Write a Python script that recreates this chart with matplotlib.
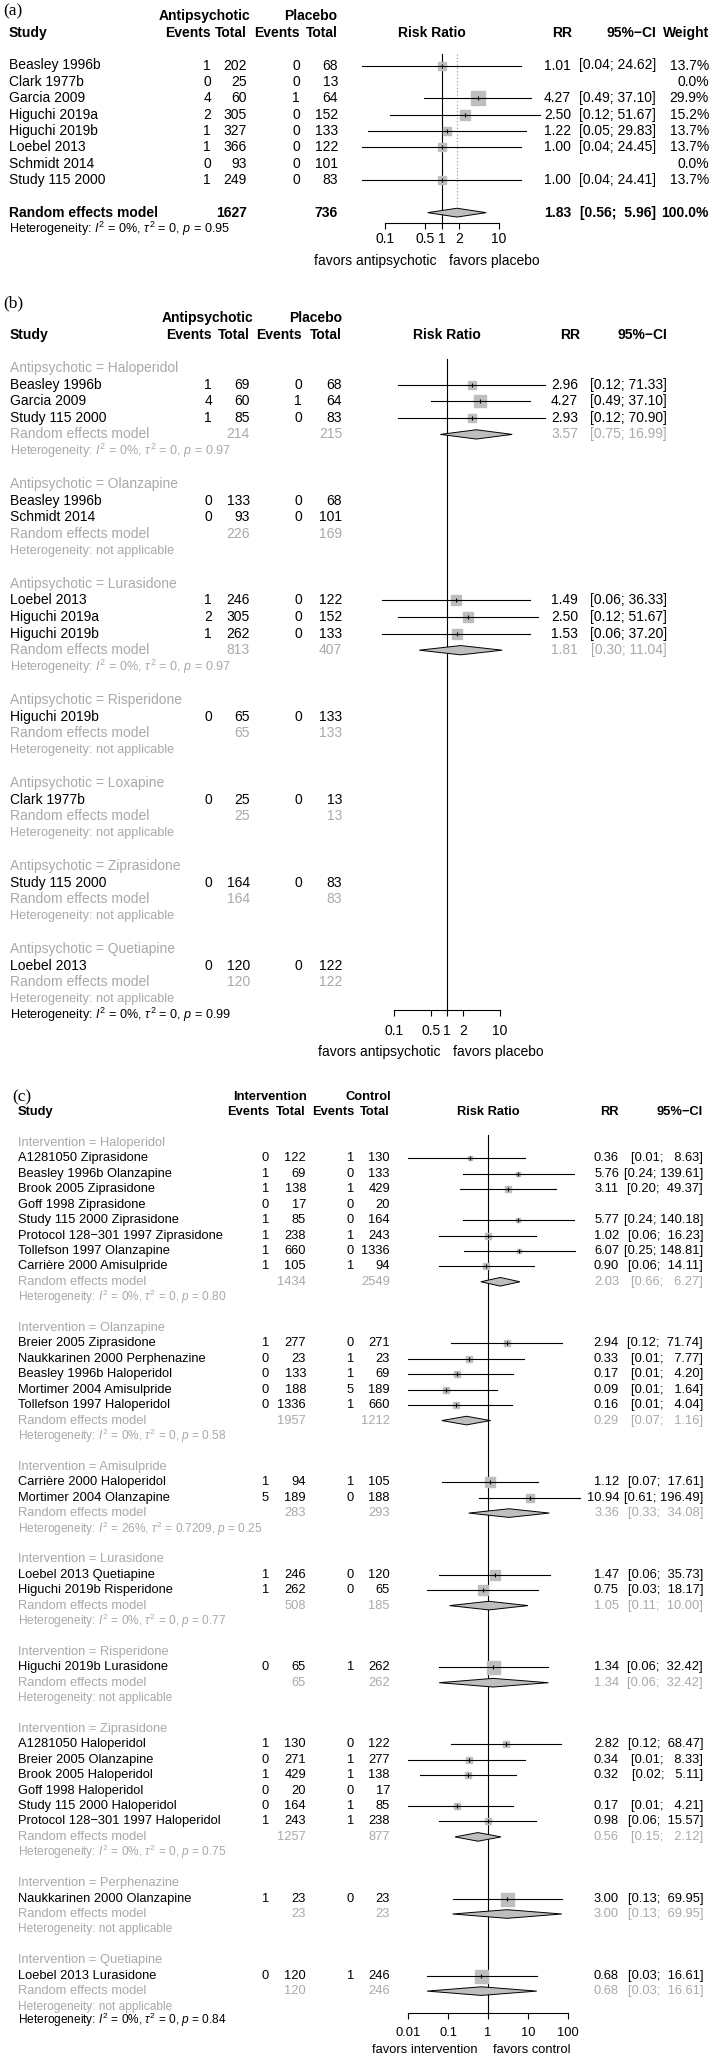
import numpy as np
import matplotlib
matplotlib.use("Agg")
import matplotlib.pyplot as plt
from matplotlib import transforms
from matplotlib.ticker import FixedLocator, FixedFormatter, NullLocator

plt.rcParams['font.family'] = ['Liberation Sans', 'DejaVu Sans']
plt.rcParams['mathtext.fontset'] = 'custom'
plt.rcParams['mathtext.rm'] = 'Liberation Sans'
plt.rcParams['mathtext.it'] = 'Liberation Sans:italic'
plt.rcParams['mathtext.bf'] = 'Liberation Sans:bold'

nan = np.nan

# ---------------- Panel (a) data ----------------
a_study = ["Beasley 1996b", "Clark 1977b", "Garcia 2009", "Higuchi 2019a",
           "Higuchi 2019b", "Loebel 2013", "Schmidt 2014", "Study 115 2000"]
a_ev1 = [1, 0, 4, 2, 1, 1, 0, 1]
a_n1 = [202, 25, 60, 305, 327, 366, 93, 249]
a_ev2 = [0, 0, 1, 0, 0, 0, 0, 0]
a_n2 = [68, 13, 64, 152, 133, 122, 101, 83]
a_rr = [1.01, nan, 4.27, 2.50, 1.22, 1.00, nan, 1.00]
a_lo = [0.04, nan, 0.49, 0.12, 0.05, 0.04, nan, 0.04]
a_hi = [24.62, nan, 37.10, 51.67, 29.83, 24.45, nan, 24.41]
a_wt = [13.7, 0.0, 29.9, 15.2, 13.7, 13.7, 0.0, 13.7]
a_pool = [1.83, 0.56, 5.96]
a_tot = [1627, 736]
a_het = ["0", "0", "0.95"]
a_ticks = [0.1, 0.5, 1, 2, 10]
a_ticklabels = ["0.1", "0.5", "1", "2", "10"]

# ---------------- Panel (b) data ----------------
b_groups = ["Haloperidol", "Olanzapine", "Lurasidone", "Risperidone",
            "Loxapine", "Ziprasidone", "Quetiapine"]
b_gidx = [0, 0, 0, 1, 1, 2, 2, 2, 3, 4, 5, 6]
b_study = ["Beasley 1996b", "Garcia 2009", "Study 115 2000", "Beasley 1996b",
           "Schmidt 2014", "Loebel 2013", "Higuchi 2019a", "Higuchi 2019b",
           "Higuchi 2019b", "Clark 1977b", "Study 115 2000", "Loebel 2013"]
b_ev1 = [1, 4, 1, 0, 0, 1, 2, 1, 0, 0, 0, 0]
b_n1 = [69, 60, 85, 133, 93, 246, 305, 262, 65, 25, 164, 120]
b_ev2 = [0, 1, 0, 0, 0, 0, 0, 0, 0, 0, 0, 0]
b_n2 = [68, 64, 83, 68, 101, 122, 152, 133, 133, 13, 83, 122]
b_rr = [2.96, 4.27, 2.93, nan, nan, 1.49, 2.50, 1.53, nan, nan, nan, nan]
b_lo = [0.12, 0.49, 0.12, nan, nan, 0.06, 0.12, 0.06, nan, nan, nan, nan]
b_hi = [71.33, 37.10, 70.90, nan, nan, 36.33, 51.67, 37.20, nan, nan, nan, nan]
b_sub_n1 = [214, 226, 813, 65, 25, 164, 120]
b_sub_n2 = [215, 169, 407, 133, 13, 83, 122]
b_sub_rr = [3.57, nan, 1.81, nan, nan, nan, nan]
b_sub_lo = [0.75, nan, 0.30, nan, nan, nan, nan]
b_sub_hi = [16.99, nan, 11.04, nan, nan, nan, nan]
b_sub_i2 = ["0", None, "0", None, None, None, None]
b_sub_tau2 = ["0", None, "0", None, None, None, None]
b_sub_p = ["0.97", None, "0.97", None, None, None, None]
b_het = ["0", "0", "0.99"]

# ---------------- Panel (c) data ----------------
c_groups = ["Haloperidol", "Olanzapine", "Amisulpride", "Lurasidone",
            "Risperidone", "Ziprasidone", "Perphenazine", "Quetiapine"]
c_gidx = [0] * 8 + [1] * 5 + [2] * 2 + [3] * 2 + [4] + [5] * 6 + [6] + [7]
c_study = ["A1281050 Ziprasidone", "Beasley 1996b Olanzapine", "Brook 2005 Ziprasidone",
           "Goff 1998 Ziprasidone", "Study 115 2000 Ziprasidone",
           "Protocol 128\u2212301 1997 Ziprasidone", "Tollefson 1997 Olanzapine",
           "Carri\u00e8re 2000 Amisulpride",
           "Breier 2005 Ziprasidone", "Naukkarinen 2000 Perphenazine",
           "Beasley 1996b Haloperidol", "Mortimer 2004 Amisulpride",
           "Tollefson 1997 Haloperidol",
           "Carri\u00e8re 2000 Haloperidol", "Mortimer 2004 Olanzapine",
           "Loebel 2013 Quetiapine", "Higuchi 2019b Risperidone",
           "Higuchi 2019b Lurasidone",
           "A1281050 Haloperidol", "Breier 2005 Olanzapine", "Brook 2005 Haloperidol",
           "Goff 1998 Haloperidol", "Study 115 2000 Haloperidol",
           "Protocol 128\u2212301 1997 Haloperidol",
           "Naukkarinen 2000 Olanzapine",
           "Loebel 2013 Lurasidone"]
c_ev1 = [0, 1, 1, 0, 1, 1, 1, 1, 1, 0, 0, 0, 0, 1, 5, 1, 1, 0, 1, 0, 1, 0, 0, 1, 1, 0]
c_n1 = [122, 69, 138, 17, 85, 238, 660, 105, 277, 23, 133, 188, 1336, 94, 189,
        246, 262, 65, 130, 271, 429, 20, 164, 243, 23, 120]
c_ev2 = [1, 0, 1, 0, 0, 1, 0, 1, 0, 1, 1, 5, 1, 1, 0, 0, 0, 1, 0, 1, 1, 0, 1, 1, 0, 1]
c_n2 = [130, 133, 429, 20, 164, 243, 1336, 94, 271, 23, 69, 189, 660, 105, 188,
        120, 65, 262, 122, 277, 138, 17, 85, 238, 23, 246]
c_rr = [0.36, 5.76, 3.11, nan, 5.77, 1.02, 6.07, 0.90, 2.94, 0.33, 0.17, 0.09, 0.16,
        1.12, 10.94, 1.47, 0.75, 1.34, 2.82, 0.34, 0.32, nan, 0.17, 0.98, 3.00, 0.68]
c_lo = [0.01, 0.24, 0.20, nan, 0.24, 0.06, 0.25, 0.06, 0.12, 0.01, 0.01, 0.01, 0.01,
        0.07, 0.61, 0.06, 0.03, 0.06, 0.12, 0.01, 0.02, nan, 0.01, 0.06, 0.13, 0.03]
c_hi = [8.63, 139.61, 49.37, nan, 140.18, 16.23, 148.81, 14.11, 71.74, 7.77, 4.20,
        1.64, 4.04, 17.61, 196.49, 35.73, 18.17, 32.42, 68.47, 8.33, 5.11, nan, 4.21,
        15.57, 69.95, 16.61]
c_sub_n1 = [1434, 1957, 283, 508, 65, 1257, 23, 120]
c_sub_n2 = [2549, 1212, 293, 185, 262, 877, 23, 246]
c_sub_rr = [2.03, 0.29, 3.36, 1.05, 1.34, 0.56, 3.00, 0.68]
c_sub_lo = [0.66, 0.07, 0.33, 0.11, 0.06, 0.15, 0.13, 0.03]
c_sub_hi = [6.27, 1.16, 34.08, 10.00, 32.42, 2.12, 69.95, 16.61]
c_sub_i2 = ["0", "0", "26", "0", None, "0", None, None]
c_sub_tau2 = ["0", "0", "0.7209", "0", None, "0", None, None]
c_sub_p = ["0.80", "0.58", "0.25", "0.77", None, "0.75", None, None]
c_het = ["0", "0", "0.84"]
c_ticks = [0.01, 0.1, 1, 10, 100]
c_ticklabels = ["0.01", "0.1", "1", "10", "100"]

# ---------------- helpers ----------------
W, H = 714, 2060
fig = plt.figure(figsize=(W / 100, H / 100), dpi=100)
fig.patch.set_facecolor("white")
GRAY_T = "#A9A9A9"
SQ = "#BEBEBE"
PT = 0.72  # points per pixel


def make_axes(px_lo, px_hi, xlim, y0, dy, top_px, bot_px, axis_row, ticks, labels,
              fs, pad_px):
    ax = fig.add_axes([px_lo / W, 1 - bot_px / H, (px_hi - px_lo) / W,
                       (bot_px - top_px) / H])
    ax.set_xscale("log")
    ax.set_xlim(*xlim)
    ax.set_ylim((bot_px - y0) / dy, (top_px - y0) / dy)
    ax.patch.set_visible(False)
    for s in ["top", "right", "left"]:
        ax.spines[s].set_visible(False)
    ax.spines["bottom"].set_position(("data", axis_row))
    ax.spines["bottom"].set_linewidth(0.8)
    ax.xaxis.set_major_locator(FixedLocator(ticks))
    ax.xaxis.set_major_formatter(FixedFormatter(labels))
    ax.xaxis.set_minor_locator(NullLocator())
    ax.tick_params(axis="x", direction="out", length=6 * PT, width=0.8,
                   pad=pad_px * PT, labelsize=fs)
    ax.set_yticks([])
    tr = transforms.blended_transform_factory(fig.transFigure, ax.transData)
    return ax, tr


def txt(ax, tr, xpx, row, s, ha="left", **kw):
    ax.text(xpx / W, row, s, transform=tr, ha=ha, va="center", **kw)


def het_str(i2, tau2, p):
    if i2 is None:
        return "Heterogeneity: not applicable"
    return (r"Heterogeneity: $\mathit{I}^2$ = " + i2 + r"%, $\tau^2$ = " + tau2 +
            r", $\mathit{p}$ = " + p)


def ci_str(lo, hi, wl, wh):
    return "[" + f"{lo:.2f}".rjust(wl) + "; " + f"{hi:.2f}".rjust(wh) + "]"


def study_mark(ax, row, m, l, h, size_px):
    ax.plot([m], [row], marker="s", ms=size_px * PT, mfc=SQ, mec=SQ, ls="none",
            zorder=2, clip_on=False)
    ax.plot([l, h], [row, row], color="black", lw=0.8, zorder=3, clip_on=False)
    ax.plot([m], [row], marker="|", ms=4 * PT, mec="black", mew=0.8, ls="none",
            zorder=4, clip_on=False)


def diamond(ax, row, m, l, h, hh):
    ax.fill([l, m, h, m], [row, row - hh, row, row + hh], facecolor=SQ,
            edgecolor="black", lw=0.7, zorder=3, clip_on=False)


def iv_weights(lo, hi):
    lo = np.asarray(lo, float)
    hi = np.asarray(hi, float)
    se = (np.log(hi) - np.log(lo)) / (2 * 1.959964)
    return 1.0 / se ** 2


# =============== Panel (a) ===============
FS = 10
HFS = 9.1
ya0, dya = 65.5, 16.35
axis_a = (223 - ya0) / dya
ax, tr = make_axes(385, 499, (0.1, 10), ya0, dya, 0, 280, axis_a,
                   a_ticks, a_ticklabels, FS, 3)
fig.text(3 / W, 1 - 11 / H, "(a)", family=["Liberation Serif", "DejaVu Serif"],
         fontsize=12.5, va="center", ha="left")
txt(ax, tr, 204, -3, "Antipsychotic", ha="center", fontsize=FS, fontweight="bold")
txt(ax, tr, 311, -3, "Placebo", ha="center", fontsize=FS, fontweight="bold")
for xp, s, ha in [(9, "Study", "left"), (211, "Events", "right"), (247, "Total", "right"),
                  (300, "Events", "right"), (338, "Total", "right"),
                  (432, "Risk Ratio", "center"), (572, "RR", "right"),
                  (656, "95%\u2212CI", "right"), (709, "Weight", "right")]:
    txt(ax, tr, xp, -2, s, ha=ha, fontsize=FS, fontweight="bold")

wl_a = 4
wh_a = max(len(f"{v:.2f}") for v in list(a_hi) + [a_pool[2]] if not np.isnan(v))
for i in range(len(a_study)):
    txt(ax, tr, 9, i, a_study[i], fontsize=FS)
    txt(ax, tr, 211, i, str(a_ev1[i]), ha="right", fontsize=FS)
    txt(ax, tr, 247, i, str(a_n1[i]), ha="right", fontsize=FS)
    txt(ax, tr, 300, i, str(a_ev2[i]), ha="right", fontsize=FS)
    txt(ax, tr, 338, i, str(a_n2[i]), ha="right", fontsize=FS)
    txt(ax, tr, 709, i, f"{a_wt[i]:.1f}%", ha="right", fontsize=FS)
    if not np.isnan(a_rr[i]):
        txt(ax, tr, 571, i, f"{a_rr[i]:.2f}", ha="right", fontsize=FS)
        txt(ax, tr, 656, i, ci_str(a_lo[i], a_hi[i], wl_a, wh_a), ha="right", fontsize=FS)
        study_mark(ax, i, a_rr[i], a_lo[i], a_hi[i], 24 * np.sqrt(a_wt[i] / 100))
r_re = len(a_study) + 1
txt(ax, tr, 9, r_re, "Random effects model", fontsize=FS, fontweight="bold")
txt(ax, tr, 247, r_re, str(a_tot[0]), ha="right", fontsize=FS, fontweight="bold")
txt(ax, tr, 338, r_re, str(a_tot[1]), ha="right", fontsize=FS, fontweight="bold")
txt(ax, tr, 571, r_re, f"{a_pool[0]:.2f}", ha="right", fontsize=FS, fontweight="bold")
txt(ax, tr, 656, r_re, ci_str(a_pool[1], a_pool[2], wl_a, wh_a), ha="right",
    fontsize=FS, fontweight="bold")
txt(ax, tr, 709, r_re, "100.0%", ha="right", fontsize=FS, fontweight="bold")
txt(ax, tr, 9, r_re + 1, het_str(*a_het), fontsize=HFS)
hh = 0.27
diamond(ax, r_re, a_pool[0], a_pool[1], a_pool[2], hh)
ax.plot([1, 1], [-0.73, axis_a], color="black", lw=0.8, zorder=1, clip_on=False)
ax.plot([a_pool[0]] * 2, [-0.73, r_re - hh], color="#909090", lw=0.8, ls=(0, (1, 2)),
        zorder=1, clip_on=False)
fav_row_a = (261 - ya0) / dya
txt(ax, tr, 436, fav_row_a, "favors antipsychotic", ha="right", fontsize=FS)
txt(ax, tr, 449, fav_row_a, "favors placebo", ha="left", fontsize=FS)


# =============== Subgroup panel drawer ===============
def subgroup_panel(label, lab_x, lab_y, prefix, groups, gidx, study, ev1, n1, ev2, n2,
                   rr, lo, hi, sn1, sn2, srr, slo, shi, si2, stau, sp, het_all,
                   px_lo, px_hi, xlim, ticks, ticklabels, y0, dy, top_px, bot_px,
                   axis_px, tick_lab_pad, fav_px, overall_het_gap, cols, hdr1,
                   fs, hfs, sq_scale, line_top, fav_left, fav_right, fav_texts):
    axis_row = (axis_px - y0) / dy
    ax, tr = make_axes(px_lo, px_hi, xlim, y0, dy, top_px, bot_px, axis_row,
                       ticks, ticklabels, fs, tick_lab_pad)
    fig.text(lab_x / W, 1 - lab_y / H, label, family=["Liberation Serif", "DejaVu Serif"],
             fontsize=12.5, va="center", ha="left")
    xn, xe1, xt1, xe2, xt2, xrr_h, xrr, xci, xrrlab = cols
    txt(ax, tr, hdr1[0][0], -3, hdr1[0][1], ha="center", fontsize=fs, fontweight="bold")
    txt(ax, tr, hdr1[1][0], -3, hdr1[1][1], ha="center", fontsize=fs, fontweight="bold")
    for xp, s, ha in [(xn, "Study", "left"), (xe1, "Events", "right"), (xt1, "Total", "right"),
                      (xe2, "Events", "right"), (xt2, "Total", "right"),
                      (xrrlab, "Risk Ratio", "center"), (xrr_h, "RR", "right"),
                      (xci, "95%\u2212CI", "right")]:
        txt(ax, tr, xp, -2, s, ha=ha, fontsize=fs, fontweight="bold")

    vals_hi = [v for v in list(hi) + list(shi) if not np.isnan(v)]
    wh = max(len(f"{v:.2f}") for v in vals_hi)
    wl = 4
    gidx = np.asarray(gidx)
    row = 0
    hh = 0.28
    for g, gname in enumerate(groups):
        txt(ax, tr, xn, row, f"{prefix} = {gname}", fontsize=fs, color=GRAY_T)
        row += 1
        members = np.where(gidx == g)[0]
        valid = [k for k in members if not np.isnan(rr[k])]
        if valid:
            w = iv_weights([lo[k] for k in valid], [hi[k] for k in valid])
            frac = dict(zip(valid, w / w.sum()))
        for k in members:
            txt(ax, tr, xn, row, study[k], fontsize=fs)
            txt(ax, tr, xe1, row, str(ev1[k]), ha="right", fontsize=fs)
            txt(ax, tr, xt1, row, str(n1[k]), ha="right", fontsize=fs)
            txt(ax, tr, xe2, row, str(ev2[k]), ha="right", fontsize=fs)
            txt(ax, tr, xt2, row, str(n2[k]), ha="right", fontsize=fs)
            if not np.isnan(rr[k]):
                txt(ax, tr, xrr, row, f"{rr[k]:.2f}", ha="right", fontsize=fs)
                txt(ax, tr, xci, row, ci_str(lo[k], hi[k], wl, wh), ha="right", fontsize=fs)
                study_mark(ax, row, rr[k], lo[k], hi[k], sq_scale * np.sqrt(frac[k]))
            row += 1
        txt(ax, tr, xn, row, "Random effects model", fontsize=fs, color=GRAY_T)
        txt(ax, tr, xt1, row, str(sn1[g]), ha="right", fontsize=fs, color=GRAY_T)
        txt(ax, tr, xt2, row, str(sn2[g]), ha="right", fontsize=fs, color=GRAY_T)
        if not np.isnan(srr[g]):
            txt(ax, tr, xrr, row, f"{srr[g]:.2f}", ha="right", fontsize=fs, color=GRAY_T)
            txt(ax, tr, xci, row, ci_str(slo[g], shi[g], wl, wh), ha="right",
                fontsize=fs, color=GRAY_T)
            diamond(ax, row, srr[g], slo[g], shi[g], hh)
        row += 1
        txt(ax, tr, xn, row, het_str(si2[g], stau[g], sp[g]), fontsize=hfs, color=GRAY_T)
        if g < len(groups) - 1:
            row += 2
    txt(ax, tr, xn, row + overall_het_gap, het_str(*het_all), fontsize=hfs)
    ax.plot([1, 1], [(line_top - y0) / dy, axis_row], color="black", lw=0.8, zorder=1,
            clip_on=False)
    fav_row = (fav_px - y0) / dy
    txt(ax, tr, fav_left, fav_row, fav_texts[0], ha="right", fontsize=fs)
    txt(ax, tr, fav_right, fav_row, fav_texts[1], ha="left", fontsize=fs)


# =============== Panel (b) ===============
subgroup_panel("(b)", 3, 303, "Antipsychotic", b_groups, b_gidx, b_study, b_ev1, b_n1,
               b_ev2, b_n2, b_rr, b_lo, b_hi, b_sub_n1, b_sub_n2, b_sub_rr, b_sub_lo,
               b_sub_hi, b_sub_i2, b_sub_tau2, b_sub_p, b_het,
               394, 500, (0.1, 10), a_ticks, a_ticklabels, 368, 16.6, 290, 1070,
               1010, 8, 1052, 1.0,
               (10, 212, 250, 302, 342, 580, 578, 667, 447),
               [(207, "Antipsychotic"), (316, "Placebo")],
               10, 9.1, 16.6, 359, 441, 453,
               ("favors antipsychotic", "favors placebo"))

# =============== Panel (c) ===============
subgroup_panel("(c)", 12, 1097, "Intervention", c_groups, c_gidx, c_study, c_ev1, c_n1,
               c_ev2, c_n2, c_rr, c_lo, c_hi, c_sub_n1, c_sub_n2, c_sub_rr, c_sub_lo,
               c_sub_hi, c_sub_i2, c_sub_tau2, c_sub_p, c_het,
               408, 568, (0.01, 100), c_ticks, c_ticklabels, 1143, 15.42, 1075, 2060,
               2013, 8, 2050, 0.85,
               (18, 269, 306, 354, 390, 619, 619, 703, 488),
               [(270, "Intervention"), (368, "Control")],
               9.25, 8.6, 13, 1135, 478, 493,
               ("favors intervention", "favors control"))

fig.savefig("out.png", dpi=100, facecolor="white")
